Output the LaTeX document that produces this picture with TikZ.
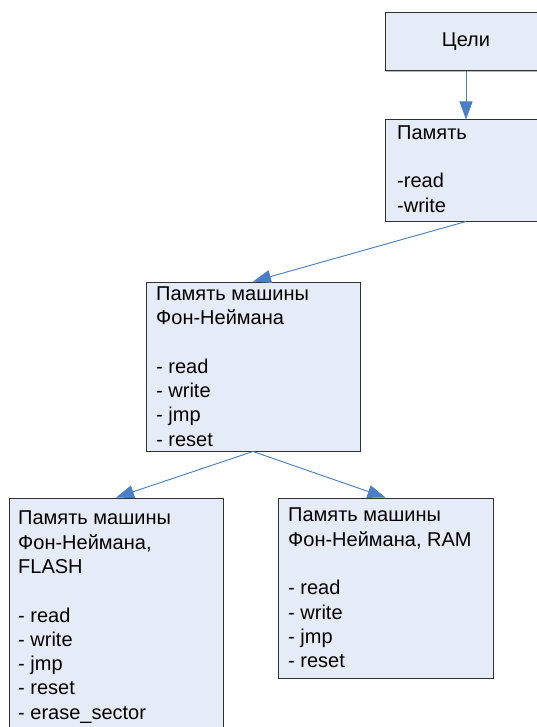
\documentclass[tikz,border=0pt]{standalone}
\usepackage{fontspec}
\setmainfont{Liberation Sans}
\usetikzlibrary{arrows.meta,shadows}
\definecolor{boxfill}{HTML}{E6ECF7}
\definecolor{boxline}{HTML}{303030}
\definecolor{arrowblue}{HTML}{4A7EC7}
\begin{document}
\begin{tikzpicture}[x=1pt,y=-1pt,
  box/.style={draw=boxline, line width=1pt, fill=boxfill, rectangle, inner sep=0pt,
    drop shadow={shadow xshift=1pt,shadow yshift=-1pt,fill=gray!55,opacity=1}},
  txt/.style={anchor=north west, align=left, inner sep=0pt, font=\fontsize{20}{24.3}\selectfont},
  conn/.style={draw=arrowblue, line width=0.9pt, -{Triangle[length=18pt,width=13pt]}, fill=arrowblue}]
\useasboundingbox (0,0) rectangle (537,727);
\clip (0,0) rectangle (537,727);
% boxes
\node[box, minimum width=162pt, minimum height=58pt]  (goals) at (466,42) {};
\node[box, minimum width=162pt, minimum height=101pt] (mem)   at (466,170.5) {};
\node[box, minimum width=214pt, minimum height=169pt] (vn)    at (253,366.5) {};
\node[box, minimum width=214pt, minimum height=260pt] (flash) at (116,628) {};
\node[box, minimum width=215pt, minimum height=180pt] (ram)   at (385.5,588) {};
% texts
\node[font=\fontsize{20}{24.3}\selectfont, inner sep=0pt] (goalstxt) at (goals.center) {Цели};
\node[txt] (memtxt) at (397,122) {\rule{0pt}{17pt}Память\\\mbox{}\\-read\\-write};
\node[txt] (vntxt) at (156,283) {\rule{0pt}{17pt}Память машины\\Фон-Неймана\\\mbox{}\\- read\\- write\\- jmp\\- reset};
\node[txt] (flashtxt) at (18,507.6) {\rule{0pt}{17pt}Память машины\\Фон-Неймана,\\FLASH\\\mbox{}\\- read\\- write\\- jmp\\- reset\\- erase\_sector};
\node[txt] (ramtxt) at (288,504.7) {\rule{0pt}{17pt}Память машины\\Фон-Неймана, RAM\\\mbox{}\\- read\\- write\\- jmp\\- reset};
% connectors
\draw[conn] (goals.south) -- (mem.north);
\draw[conn] (mem.south) -- (vn.north);
\draw[conn] (vn.south) -- (flash.north);
\draw[conn] (vn.south) -- (ram.north);
\end{tikzpicture}
\end{document}
